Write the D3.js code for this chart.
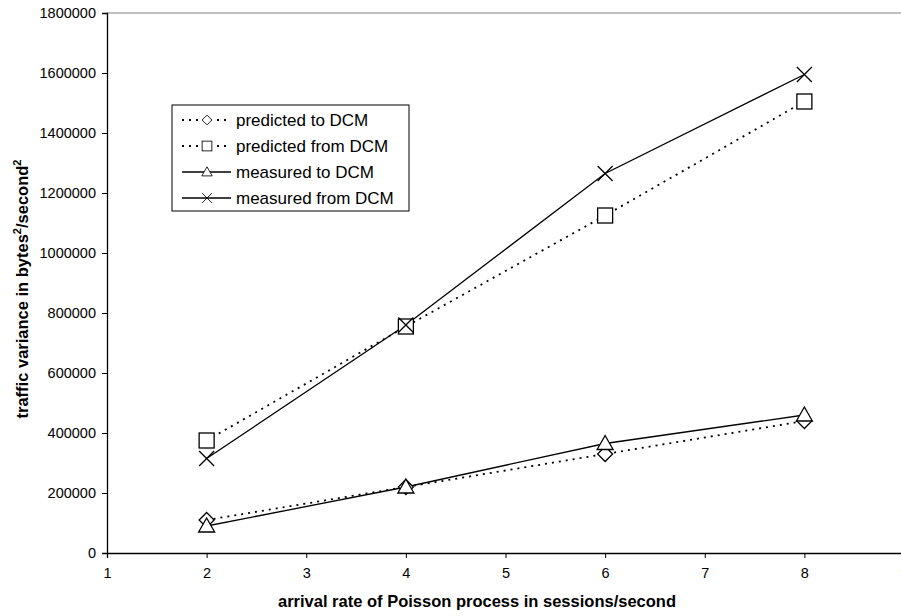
<!DOCTYPE html>
<html>
<head>
<meta charset="utf-8">
<script src="https://cdn.jsdelivr.net/npm/d3@7"></script>
<style>
  body { margin: 0; background: #fff; }
  text { font-family: "Liberation Sans", Arial, sans-serif; }
</style>
</head>
<body>
<div id="chart"></div>
<script>
// data
const rates = [2, 4, 6, 8];
const predictedTo = [110000, 220000, 330000, 440000];
const predictedFrom = [375000, 755000, 1125000, 1505000];
const measuredTo = [90000, 220000, 365000, 460000];
const measuredFrom = [315000, 760000, 1265000, 1595000];
const xTicks = [1, 2, 3, 4, 5, 6, 7, 8, 9];
const yTicks = [0, 200000, 400000, 600000, 800000, 1000000, 1200000, 1400000, 1600000, 1800000];

const series = [
  { label: "predicted to DCM", values: predictedTo, marker: "diamond", dashed: true },
  { label: "predicted from DCM", values: predictedFrom, marker: "square", dashed: true },
  { label: "measured to DCM", values: measuredTo, marker: "triangle", dashed: false },
  { label: "measured from DCM", values: measuredFrom, marker: "x", dashed: false }
];

const width = 901, height = 616;
const margin = { left: 107, top: 13, bottom: 63 };

const svg = d3.select("#chart").append("svg")
  .attr("width", width)
  .attr("height", height);

const x = d3.scaleLinear().domain([1, 9]).range([margin.left, 904]);
const y = d3.scaleLinear().domain([0, 1800000]).range([height - margin.bottom, margin.top]);

// top border of plot area
svg.append("line")
  .attr("x1", margin.left).attr("x2", width)
  .attr("y1", y(1800000)).attr("y2", y(1800000))
  .attr("stroke", "#808080").attr("stroke-width", 1);

const xAxis = svg.append("g")
  .attr("transform", `translate(0, ${y(0)})`)
  .call(d3.axisBottom(x).tickValues(xTicks).tickSize(5).tickPadding(10).tickFormat(d3.format("d")));

const yAxis = svg.append("g")
  .attr("transform", `translate(${margin.left}, 0)`)
  .call(d3.axisLeft(y).tickValues(yTicks).tickSize(5).tickPadding(6).tickFormat(d3.format("d")));

[xAxis, yAxis].forEach(a => {
  a.select(".domain").attr("stroke", "#000").attr("stroke-width", 1.3);
  a.selectAll(".tick line").attr("stroke", "#000");
  a.selectAll(".tick text").style("font-size", "14.5px").attr("fill", "#000");
});

// axis titles
svg.append("text")
  .attr("x", 477).attr("y", 607)
  .attr("text-anchor", "middle")
  .style("font-size", "16.5px").style("font-weight", "bold")
  .text("arrival rate of Poisson process in sessions/second");

const yTitle = svg.append("text")
  .attr("transform", `translate(28, 289) rotate(-90)`)
  .attr("text-anchor", "middle")
  .style("font-size", "16.5px").style("font-weight", "bold");
yTitle.append("tspan").text("traffic variance in bytes");
yTitle.append("tspan").attr("dy", -7).style("font-size", "11px").text("2");
yTitle.append("tspan").attr("dy", 7).text("/second");
yTitle.append("tspan").attr("dy", -7).style("font-size", "11px").text("2");

function drawMarker(g, type, cx, cy) {
  const m = g.append("g").attr("transform", `translate(${cx}, ${cy})`);
  const st = s => s.attr("fill", "#fff").attr("stroke", "#000").attr("stroke-width", 1.3);
  if (type === "diamond") {
    st(m.append("path").attr("d", "M0,-7.5L7.5,0L0,7.5L-7.5,0Z"));
  } else if (type === "square") {
    st(m.append("rect").attr("x", -7.5).attr("y", -7.5).attr("width", 15).attr("height", 15));
  } else if (type === "triangle") {
    st(m.append("path").attr("d", "M0,-8L8,6L-8,6Z"));
  } else {
    m.append("path").attr("d", "M-7.5,-7.5L7.5,7.5M-7.5,7.5L7.5,-7.5")
      .attr("fill", "none").attr("stroke", "#000").attr("stroke-width", 1.3);
  }
}

const line = d3.line().x((d, i) => x(rates[i])).y(d => y(d));

series.forEach(s => {
  svg.append("path")
    .datum(s.values)
    .attr("d", line)
    .attr("fill", "none")
    .attr("stroke", "#000")
    .attr("stroke-width", s.dashed ? 1.8 : 1.3)
    .attr("stroke-dasharray", s.dashed ? "2,5" : null);
});
series.forEach(s => {
  s.values.forEach((v, i) => drawMarker(svg, s.marker, x(rates[i]), y(v)));
});

// legend
const legend = svg.append("g").attr("transform", "translate(172, 105)");
legend.append("rect")
  .attr("width", 237).attr("height", 106)
  .attr("fill", "#fff").attr("stroke", "#000").attr("stroke-width", 1);

series.forEach((s, i) => {
  const cy = 15 + i * 26;
  legend.append("line")
    .attr("x1", 10).attr("x2", 59).attr("y1", cy).attr("y2", cy)
    .attr("stroke", "#000")
    .attr("stroke-width", s.dashed ? 1.8 : 1.3)
    .attr("stroke-dasharray", s.dashed ? "2,5" : null);
  const mg = legend.append("g").attr("transform", `translate(35, ${cy}) scale(0.65)`);
  drawMarker(mg, s.marker, 0, 0);
  legend.append("text")
    .attr("x", 64).attr("y", cy + 6)
    .style("font-size", "17px")
    .text(s.label);
});
</script>
</body>
</html>
